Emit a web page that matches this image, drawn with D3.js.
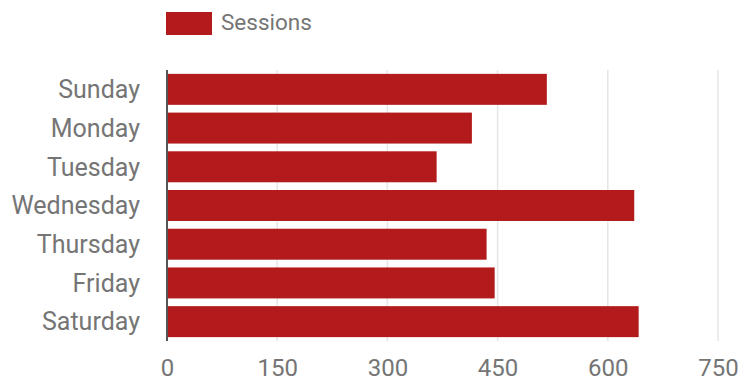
<!DOCTYPE html>
<html>
<head>
<meta charset="utf-8">
<script src="https://cdn.jsdelivr.net/npm/d3@7"></script>
<style>
  body { margin: 0; background: #fff; }
  text { font-family: Roboto, sans-serif; }
</style>
</head>
<body>
<svg id="chart" width="743" height="383"></svg>
<script>
var days = ["Sunday", "Monday", "Tuesday", "Wednesday", "Thursday", "Friday", "Saturday"];
var sessions = [517, 415, 367, 636, 435, 446, 642];
var xTicks = [0, 150, 300, 450, 600, 750];
var seriesName = "Sessions";

var barColor = "#b21a1b";
var textColor = "#757575";

var svg = d3.select("#chart");

let plotLeft = 167, plotRight = 718;
let plotTop = 70, plotBottom = 341;

var xScale = d3.scaleLinear()
    .domain([0, 750])
    .range([plotLeft, plotRight]);

var yScale = d3.scaleBand()
    .domain(days)
    .range([plotTop, plotBottom])
    .paddingInner(0.2)
    .paddingOuter(0.1);

// gridlines
svg.append("g")
    .selectAll("line")
    .data(xTicks.slice(1))
    .enter()
    .append("line")
    .attr("x1", d => xScale(d))
    .attr("x2", d => xScale(d))
    .attr("y1", plotTop)
    .attr("y2", plotBottom)
    .attr("stroke", "#e6e6e6")
    .attr("stroke-width", 1.5);

// bars
svg.append("g")
    .selectAll("rect")
    .data(days)
    .enter()
    .append("rect")
    .attr("x", xScale(0))
    .attr("y", d => yScale(d))
    .attr("width", (d, i) => xScale(sessions[i]) - xScale(0))
    .attr("height", yScale.bandwidth())
    .style("fill", barColor);

// baseline
svg.append("line")
    .attr("x1", xScale(0))
    .attr("x2", xScale(0))
    .attr("y1", plotTop)
    .attr("y2", plotBottom)
    .attr("stroke", "#555")
    .attr("stroke-width", 2);

// x axis labels
var xAxis = d3.axisBottom(xScale).tickValues(xTicks).tickSize(0).tickPadding(0);
var xg = svg.append("g")
    .attr("transform", `translate(0, ${plotBottom})`)
    .call(xAxis);
xg.select(".domain").remove();
xg.selectAll(".tick text")
    .attr("y", 35)
    .attr("dy", null)
    .attr("fill", textColor)
    .attr("font-size", "24px");

// y axis labels
var yAxis = d3.axisLeft(yScale).tickSize(0).tickPadding(0);
var yg = svg.append("g")
    .attr("transform", `translate(140, 0)`)
    .call(yAxis);
yg.select(".domain").remove();
yg.selectAll(".tick text")
    .attr("x", 0)
    .attr("dy", "0.35em")
    .attr("fill", textColor)
    .attr("font-size", "25px");

// legend
var legend = svg.append("g");
legend.append("rect")
    .attr("x", 166)
    .attr("y", 12)
    .attr("width", 46)
    .attr("height", 23)
    .style("fill", barColor);
legend.append("text")
    .attr("x", 221)
    .attr("y", 30)
    .attr("fill", textColor)
    .attr("font-size", "22.5px")
    .text(seriesName);
</script>
</body>
</html>
